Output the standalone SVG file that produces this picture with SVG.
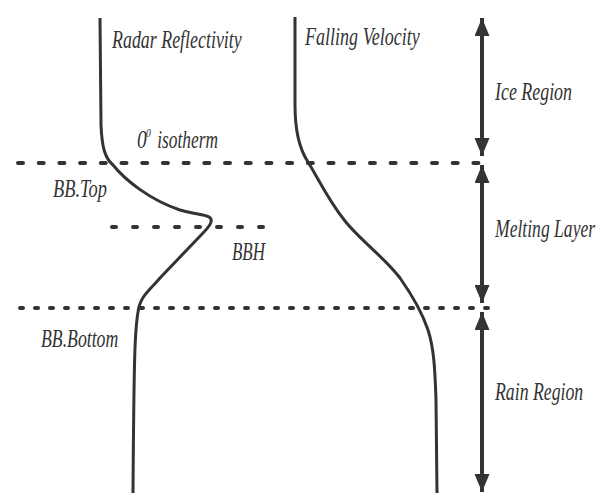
<svg xmlns="http://www.w3.org/2000/svg" width="599" height="493" viewBox="0 0 599 493">
<style>
.lbl{font-family:"Liberation Serif","Times New Roman",serif;font-style:italic;font-size:26px;fill:#333}
.curve{fill:none;stroke:#333;stroke-width:3}
.dash{fill:none;stroke:#333;stroke-width:4;stroke-linecap:round}
.arr{fill:none;stroke:#333;stroke-width:4}
.head{fill:#333}
</style>
<defs>
<marker id="ah" viewBox="0 0 18 15" refX="18" refY="7.5" markerWidth="18" markerHeight="15" markerUnits="userSpaceOnUse" orient="auto-start-reverse">
<path class="head" d="M0,0 L18,7.5 L0,15 Z"/>
</marker>
</defs>
<rect width="599" height="493" fill="#fff"/>
<g id="levels">
<path class="dash" d="M18,163 H485" stroke-dasharray="5 15.7"/>
<path class="dash" d="M112,227 H266" stroke-dasharray="4 17"/>
<path class="dash" d="M20,308 H490" stroke-dasharray="3 12"/>
</g>
<g id="radar-reflectivity">
<path class="curve" d="M100,18 L101,125 C102,148 105,158 113,165 C125,180 150,200 180,210 C200,216 213,214 211,222 C210,226 206,230 203,233 L160,278 C150,290 140,296 138,312 C135,330 134,350 133,493"/>
<text class="lbl" transform="translate(112,48) scale(0.75,1)" textLength="173" lengthAdjust="spacingAndGlyphs">Radar Reflectivity</text>
</g>
<g id="falling-velocity">
<path class="curve" d="M295,17 L295,105 C295,130 300,150 308,162 C318,178 328,200 345,221 C360,240 385,258 400,278 C412,295 422,312 428,330 C434,348 435,370 436,400 L437,493"/>
<text class="lbl" transform="translate(305,45) scale(0.75,1)" textLength="153" lengthAdjust="spacingAndGlyphs">Falling Velocity</text>
</g>
<g id="level-labels">
<text class="lbl" transform="translate(137,148) scale(0.75,1)"><tspan x="0" y="0">0</tspan><tspan x="12" y="-11" font-size="13">0</tspan><tspan x="27" y="0" textLength="81" lengthAdjust="spacingAndGlyphs">isotherm</tspan></text>
<text class="lbl" transform="translate(53,197) scale(0.75,1)" textLength="72" lengthAdjust="spacingAndGlyphs">BB.Top</text>
<text class="lbl" transform="translate(232,260) scale(0.75,1)" textLength="44" lengthAdjust="spacingAndGlyphs">BBH</text>
<text class="lbl" transform="translate(41,347) scale(0.75,1)" textLength="103" lengthAdjust="spacingAndGlyphs">BB.Bottom</text>
</g>
<g id="connectors">
<line class="arr" x1="482" y1="18" x2="482" y2="156" marker-start="url(#ah)" marker-end="url(#ah)"/>
<line class="arr" x1="482" y1="165" x2="482" y2="303" marker-start="url(#ah)" marker-end="url(#ah)"/>
<line class="arr" x1="482" y1="312" x2="482" y2="492" marker-start="url(#ah)" marker-end="url(#ah)"/>
</g>
<g id="ice-region"><text class="lbl" transform="translate(495,100) scale(0.7,1)" textLength="110" lengthAdjust="spacingAndGlyphs">Ice Region</text></g>
<g id="melting-layer"><text class="lbl" transform="translate(495,237) scale(0.7,1)" textLength="143" lengthAdjust="spacingAndGlyphs">Melting Layer</text></g>
<g id="rain-region"><text class="lbl" transform="translate(495,400) scale(0.7,1)" textLength="126" lengthAdjust="spacingAndGlyphs">Rain Region</text></g>
</svg>
